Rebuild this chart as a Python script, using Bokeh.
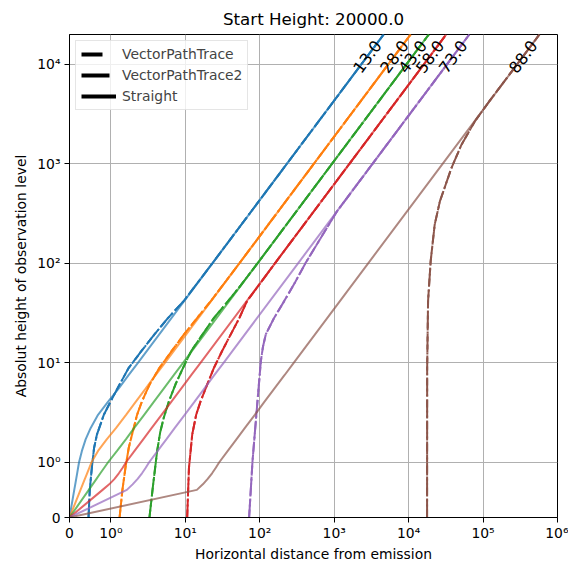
import numpy as np
from bokeh.plotting import figure
from bokeh.models import Range1d, FixedTicker, Legend, LegendItem
from bokeh.core.properties import value
from bokeh.embed import file_html
from bokeh.resources import INLINE

# ---------------- data ----------------
angles = [13.0, 28.0, 43.0, 58.0, 73.0, 88.0]
colors = ["#1f77b4", "#ff7f0e", "#2ca02c", "#d62728", "#9467bd", "#8c564b"]
start_height = 20000.0

# Straight lines: observation height h and horizontal distance x
straight_h = [0, 0.5, 0.6, 0.7, 0.8, 0.9, 1, 1.3, 1.7, 2.2, 3, 4, 5.5, 7.5, 10,
              100, 1000, 10000, 20000]
straight_x_13 = [0, 0.115, 0.139, 0.162, 0.185, 0.208, 0.231, 0.30, 0.39, 0.51, 0.69,
                 0.92, 1.27, 1.73, 2.31, 23.1, 231, 2310, 4620]
straight_x_28 = [0, 0.266, 0.319, 0.372, 0.426, 0.479, 0.532, 0.69, 0.90, 1.17, 1.60,
                 2.13, 2.93, 3.99, 5.32, 53.2, 532, 5320, 10640]
straight_x_43 = [0, 0.467, 0.56, 0.653, 0.746, 0.84, 0.933, 1.21, 1.59, 2.05, 2.80,
                 3.73, 5.13, 7.0, 9.33, 93.3, 933, 9330, 18660]
straight_x_58 = [0, 0.80, 0.96, 1.12, 1.28, 1.44, 1.60, 2.08, 2.72, 3.52, 4.80, 6.40,
                 8.80, 12.0, 16.0, 160, 1600, 16000, 32000]
straight_x_73 = [0, 1.64, 1.96, 2.29, 2.62, 2.94, 3.27, 4.25, 5.56, 7.19, 9.81, 13.1,
                 18.0, 24.5, 32.7, 327, 3270, 32700, 65400]
straight_x_88 = [0, 14.3, 17.2, 20.0, 22.9, 25.7, 28.6, 37.2, 48.6, 62.9, 85.8, 114,
                 157, 215, 286, 2860, 28600, 286000, 572000]

# Vector path traces (both traces coincide in the reference)
trace_h_13 = [0, 0.5, 0.9, 1.4, 1.91, 3.0, 4.13, 6.0, 8.9, 13.0, 19.3, 28.0, 41.7,
              100, 1000, 10000, 20000]
trace_x_13 = [0.46, 0.49, 0.54, 0.595, 0.665, 0.83, 1.0, 1.30, 1.74, 2.55, 3.85, 5.8,
              9.5, 23.1, 231, 2310, 4620]
trace_h_28 = [0, 0.5, 0.9, 1.4, 1.91, 3.0, 4.13, 6.0, 8.9, 13.0, 19.3, 28.0, 41.7,
              100, 1000, 10000, 20000]
trace_x_28 = [1.31, 1.43, 1.57, 1.74, 1.93, 2.25, 2.63, 3.3, 4.5, 6.5, 9.6, 14.3, 22.0,
              53.2, 532, 5320, 10640]
trace_h_43 = [0, 0.6, 1.30, 2.0, 2.81, 4.2, 6.08, 9.0, 13.1, 19.0, 28.3, 41.7, 60, 100,
              1000, 10000, 20000]
trace_x_43 = [3.3, 3.7, 4.19, 4.6, 5.14, 6.1, 7.39, 9.4, 12.0, 16.8, 24.3, 37.5, 55.5,
              93.3, 933, 9330, 18660]
trace_h_58 = [0, 0.9, 1.91, 3.0, 4.13, 6.0, 8.92, 13.0, 19.3, 28.0, 41.7, 100, 1000,
              10000, 20000]
trace_x_58 = [10.6, 11.2, 12.4, 14.0, 16.1, 19.6, 24.3, 31.0, 40.8, 53.0, 67.5, 160,
              1600, 16000, 32000]
trace_h_73 = [0, 1.03, 4.13, 10.4, 14.5, 19.4, 28.0, 41.7, 65, 100, 180, 332, 1000,
              10000, 20000]
trace_x_73 = [72, 80, 93.3, 103.5, 110.5, 120.8, 155, 213, 300, 410, 660, 1086, 3270,
              32700, 65400]
trace_h_88 = [0, 8.9, 41.7, 105, 245, 420, 908, 1560, 2675, 4250, 10000, 20000]
trace_x_88 = [17700, 17750, 18250, 19770, 22400, 26300, 37600, 51300, 77500, 121000,
              286000, 572000]

straight_x = [straight_x_13, straight_x_28, straight_x_43, straight_x_58, straight_x_73,
              straight_x_88]
trace_h = [trace_h_13, trace_h_28, trace_h_43, trace_h_58, trace_h_73, trace_h_88]
trace_x = [trace_x_13, trace_x_28, trace_x_43, trace_x_58, trace_x_73, trace_x_88]

label_height = 12000.0
x_tick_labels = ["0", "10⁰", "10¹", "10²", "10³", "10⁴", "10⁵", "10⁶"]
y_tick_labels = ["0", "10⁰", "10¹", "10²", "10³", "10⁴"]

# ---------------- symlog transform (linthresh=1, linscale=0.5) ----------------
LINSCALE = 0.5 / (1 - 1 / 10)


def symlog(v):
    v = np.asarray(v, dtype=float)
    out = np.where(np.abs(v) <= 1, v * LINSCALE,
                   np.sign(v) * (LINSCALE + np.log10(np.maximum(np.abs(v), 1e-300))))
    return out


x_tick_vals = [0.0] + [10.0 ** k for k in range(0, 7)]
y_tick_vals = [0.0] + [10.0 ** k for k in range(0, 5)]
xt = [float(t) for t in symlog(x_tick_vals)]
yt = [float(t) for t in symlog(y_tick_vals)]

FONT = "DejaVu Sans"

p = figure(width=568, height=568, output_backend="svg", toolbar_location=None,
           x_range=Range1d(0, xt[-1]), y_range=Range1d(0, float(symlog(start_height))),
           min_border_left=69, min_border_right=11, min_border_top=33,
           min_border_bottom=51, title="Start Height: " + str(start_height))

p.title.align = "center"
p.title.text_font = FONT
p.title.text_font_size = "16.7px"
p.title.text_font_style = "normal"
p.title.text_color = "black"
p.title.standoff = 12

p.background_fill_color = "white"
p.border_fill_color = "white"
p.outline_line_color = "black"
p.outline_line_width = 1
p.outline_line_alpha = 1

for ax, ticks, labels in ((p.xaxis[0], xt, x_tick_labels), (p.yaxis[0], yt, y_tick_labels)):
    ax.ticker = FixedTicker(ticks=ticks, minor_ticks=[])
    ax.major_label_overrides = {t: l for t, l in zip(ticks, labels)}
    ax.major_label_text_font = FONT
    ax.major_label_text_font_size = "13.9px"
    ax.major_label_text_color = "black"
    ax.axis_label_text_font = FONT
    ax.axis_label_text_font_size = "13.9px"
    ax.axis_label_text_font_style = "normal"
    ax.axis_label_text_color = "black"
    ax.major_tick_in = 0
    ax.major_tick_out = 5
    ax.minor_tick_in = 0
    ax.minor_tick_out = 0
    ax.major_tick_line_color = "black"
    ax.axis_line_color = "black"

p.xaxis.major_label_standoff = 2
p.xaxis.axis_label_standoff = 2
p.yaxis.major_label_standoff = 4
p.yaxis.axis_label_standoff = 5
p.xaxis.axis_label = "Horizontal distance from emission"
p.yaxis.axis_label = "Absolut height of observation level"
p.yaxis.major_label_orientation = "horizontal"

p.xgrid.ticker = FixedTicker(ticks=xt)
p.ygrid.ticker = FixedTicker(ticks=yt)
for g in (p.xgrid[0], p.ygrid[0]):
    g.grid_line_color = "#b0b0b0"
    g.grid_line_width = 1

for i, ang in enumerate(angles):
    c = colors[i]
    tx = symlog(trace_x[i])
    th = symlog(trace_h[i])
    p.line(tx, th, line_color=c, line_width=2, line_dash="8 3")
    p.line(tx, th, line_color=c, line_width=2, line_dash="13 3 2 3")
    sx = symlog(straight_x[i])
    sh = symlog(straight_h)
    p.line(sx, sh, line_color=c, line_width=2, line_alpha=0.7)
    # angle label on the straight line
    lx = 10 ** np.interp(np.log10(label_height), np.log10(straight_h[-3:]),
                         np.log10(straight_x[i][-3:]))
    p.text(x=[float(symlog(lx))], y=[float(symlog(label_height))], text=[str(ang)],
           angle=np.deg2rad(53.4), text_align="center", text_baseline="middle",
           text_font=value(FONT), text_font_size="16px", text_color="black")

# legend with proxy renderers (NaN data: nothing drawn in the plot area)
nan = [float("nan")]
r1 = p.line(nan, nan, line_color="black", line_width=4, line_dash="21 14")
r2 = p.line(nan, nan, line_color="black", line_width=4, line_dash="28 7")
r3 = p.line(nan, nan, line_color="black", line_width=4)
legend = Legend(items=[LegendItem(label="VectorPathTrace", renderers=[r1]),
                       LegendItem(label="VectorPathTrace2", renderers=[r2]),
                       LegendItem(label="Straight", renderers=[r3])],
                location="top_left", margin=6)
legend.glyph_width = 35
legend.glyph_height = 14
legend.label_height = 14
legend.spacing = 5
legend.padding = 5
legend.label_standoff = 6
legend.label_text_font = FONT
legend.label_text_font_size = "13.9px"
legend.border_line_color = "#cccccc"
legend.border_line_width = 1
legend.background_fill_alpha = 0.8
p.add_layout(legend)

open("out.html", "w").write(file_html(p, INLINE))
